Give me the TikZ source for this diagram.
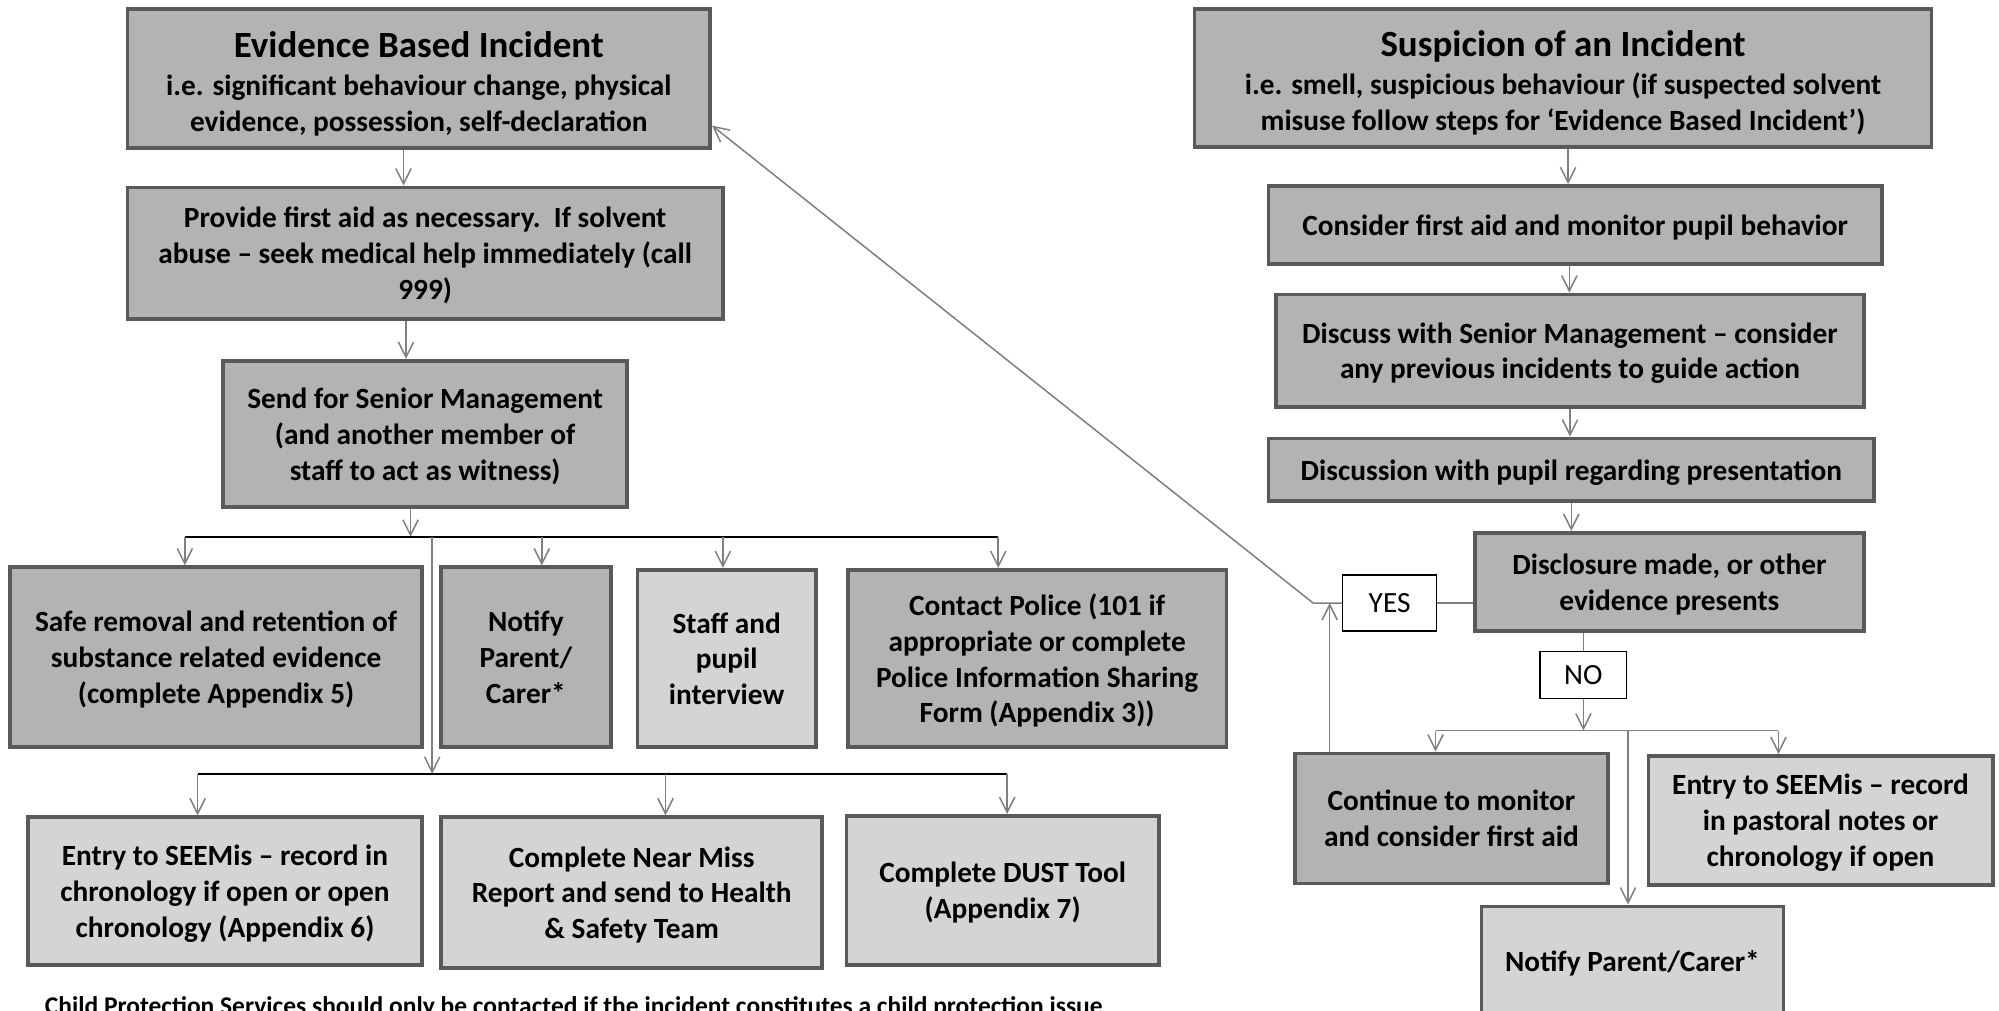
\documentclass[tikz,border=0pt]{standalone}
\usepackage{fontspec}
\setmainfont{Carlito}
\usetikzlibrary{arrows.meta}

\definecolor{boxdark}{HTML}{B3B3B3}
\definecolor{boxlight}{HTML}{D4D4D4}
\definecolor{boxline}{HTML}{595959}
\definecolor{arrowgray}{HTML}{808080}

\begin{document}
\begin{tikzpicture}[x=1pt,y=-1pt,
    darkbox/.style={draw=boxline,line width=3pt,fill=boxdark,inner sep=0pt,text depth=0pt,align=center,font=\bfseries\fontsize{23}{28}\selectfont},
    lightbox/.style={darkbox,fill=boxlight},
    tagbox/.style={draw=black,line width=1pt,fill=white,inner sep=0pt,font=\fontsize{23}{28}\selectfont},
    notetext/.style={inner sep=0pt,font=\bfseries\fontsize{20}{24}\selectfont},
    arr/.style={draw=arrowgray,line width=1.2pt,-{Straight Barb[length=12pt,width=12pt]}},
    link/.style={draw=arrowgray,line width=1.2pt},
    busline/.style={draw=black,line width=1.8pt}]
        \useasboundingbox[fill=white] (0,0) rectangle (1568,793);

        \node[darkbox,minimum width=457pt,minimum height=109pt] (EvidenceBased) at (328.5,61.5) {{\fontsize{29}{34}\selectfont\rule{0pt}{25pt}Evidence Based Incident}\\[2pt]i.e. significant behaviour change, physical\\evidence, possession, self-declaration};
        \node[darkbox,minimum width=467pt,minimum height=103pt] (FirstAid) at (333.5,198.5) {Provide first aid as necessary.\ \ If solvent\\abuse -- seek medical help immediately (call\\999)};
        \node[darkbox,minimum width=317pt,minimum height=115pt] (SendSenior) at (333.5,340.5) {Send for Senior Management\\(and another member of\\staff to act as witness)};

        \node[darkbox,minimum width=323pt,minimum height=141pt] (SafeRemoval) at (169.5,515.5) {Safe removal and retention of\\substance related evidence\\(complete Appendix 5)};
        \node[darkbox,minimum width=133pt,minimum height=141pt] (NotifyParent) at (412.5,515.5) {Notify\\Parent/\\Carer*};
        \node[lightbox,minimum width=140pt,minimum height=139pt] (StaffPupil) at (570,516.5) {Staff and\\pupil\\interview};
        \node[darkbox,minimum width=297pt,minimum height=139pt] (ContactPolice) at (813.5,516.5) {Contact Police (101 if\\appropriate or complete\\Police Information Sharing\\Form (Appendix 3))};

        \node[lightbox,minimum width=309pt,minimum height=116pt] (EntrySeemis) at (176.5,699) {Entry to SEEMis -- record in\\chronology if open or open\\chronology (Appendix 6)};
        \node[lightbox,minimum width=299pt,minimum height=118pt] (NearMiss) at (495.5,700) {Complete Near Miss\\Report and send to Health\\\& Safety Team};
        \node[lightbox,minimum width=245pt,minimum height=117pt] (DustTool) at (786.5,698.5) {Complete DUST Tool\\(Appendix 7)};

        \node[notetext,anchor=base west] (ChildProtection) at (35,796) {Child Protection Services should only be contacted if the incident constitutes a child protection issue};

        \node[darkbox,minimum width=578pt,minimum height=108pt] (Suspicion) at (1226,61) {{\fontsize{29}{34}\selectfont\rule{0pt}{25pt}Suspicion of an Incident}\\[2pt]i.e. smell, suspicious behaviour (if suspected solvent\\misuse follow steps for `Evidence Based Incident')};
        \node[darkbox,minimum width=481pt,minimum height=61pt] (ConsiderAid) at (1235.5,176.5) {Consider first aid and monitor pupil behavior};
        \node[darkbox,minimum width=461pt,minimum height=88pt] (DiscussSenior) at (1231.5,275) {Discuss with Senior Management -- consider\\any previous incidents to guide action};
        \node[darkbox,minimum width=475pt,minimum height=49pt] (DiscussPupil) at (1232.5,368.5) {Discussion with pupil regarding presentation};
        \node[darkbox,minimum width=305pt,minimum height=77pt] (Disclosure) at (1309.5,456.5) {Disclosure made, or other\\evidence presents};
        \node[tagbox,minimum width=74pt,minimum height=44pt] (YesLabel) at (1090,473) {YES};
        \node[tagbox,minimum width=68pt,minimum height=37pt] (NoLabel) at (1242,529.5) {NO};
        \node[darkbox,minimum width=245pt,minimum height=102pt] (ContinueMonitor) at (1138.5,642) {Continue to monitor\\and consider first aid};
        \node[lightbox,minimum width=270pt,minimum height=101pt] (EntryPastoral) at (1428,643.5) {Entry to SEEMis -- record\\in pastoral notes or\\chronology if open};
        \node[lightbox,minimum width=237pt,minimum height=86pt] (NotifyCarer) at (1280.5,754) {Notify Parent/Carer*};

        \coordinate (SplitTop) at (322,421);
        \coordinate (DropSafe) at (145,421);
        \coordinate (DropNotify) at (425,421);
        \coordinate (DropStaff) at (567,421);
        \coordinate (DropPolice) at (783,421);
        \coordinate (SplitDown) at (339,421);
        \coordinate (DropEntry) at (155,607);
        \coordinate (DropNear) at (522,607);
        \coordinate (DropDust) at (790,607);
        \coordinate (YesBend) at (1030,473);
        \coordinate (YesUp) at (1043,473);
        \coordinate (DropContinue) at (1126,573);
        \coordinate (DropPastoral) at (1395,573);
        \coordinate (DropCarer) at (1277,573);

        \draw[arr] ([xshift=-12pt]EvidenceBased.south) to ([xshift=-12pt]EvidenceBased.south |- FirstAid.north);
        \draw[arr] ([xshift=-15pt]FirstAid.south) to ([xshift=-15pt]FirstAid.south |- SendSenior.north);
        \draw[arr] (SplitTop |- SendSenior.south) to (SplitTop);
        \draw[busline] (DropSafe) to (DropPolice);
        \draw[arr] (DropSafe) to (DropSafe |- SafeRemoval.north);
        \draw[arr] (DropNotify) to (DropNotify |- NotifyParent.north);
        \draw[arr] (DropStaff) to (DropStaff |- StaffPupil.north);
        \draw[arr] (DropPolice) to (DropPolice |- ContactPolice.north);
        \draw[arr] (SplitDown) to (SplitDown |- DropEntry);
        \draw[busline] (DropEntry) to (DropDust);
        \draw[arr] (DropEntry) to (DropEntry |- EntrySeemis.north);
        \draw[arr] (DropNear) to (DropNear |- NearMiss.north);
        \draw[arr] (DropDust) to (DropDust |- DustTool.north);

        \draw[arr] ([xshift=4pt]Suspicion.south) to ([xshift=4pt]Suspicion.south |- ConsiderAid.north);
        \draw[arr] ([xshift=-4.5pt]ConsiderAid.south) to ([xshift=-4.5pt]ConsiderAid.south |- DiscussSenior.north);
        \draw[arr] (DiscussSenior.south) to (DiscussSenior.south |- DiscussPupil.north);
        \draw[arr] (DiscussPupil.south) to (DiscussPupil.south |- Disclosure.north);
        \draw[link] (Disclosure.west |- YesLabel.east) to (YesLabel.east);
        \draw[arr] (YesLabel.west) to (YesBend) to ([yshift=19pt]EvidenceBased.south east);
        \draw[arr] (YesUp |- ContinueMonitor.north) to (YesUp);
        \draw[link] (NoLabel.north |- Disclosure.south) to (NoLabel.north);
        \draw[arr] (NoLabel.south) to (NoLabel.south |- DropCarer);
        \draw[link] (DropContinue) to (DropPastoral);
        \draw[arr] (DropContinue) to (DropContinue |- ContinueMonitor.north);
        \draw[arr] (DropPastoral) to (DropPastoral |- EntryPastoral.north);
        \draw[arr] (DropCarer) to (DropCarer |- NotifyCarer.north);
    \end{tikzpicture}
\end{document}
